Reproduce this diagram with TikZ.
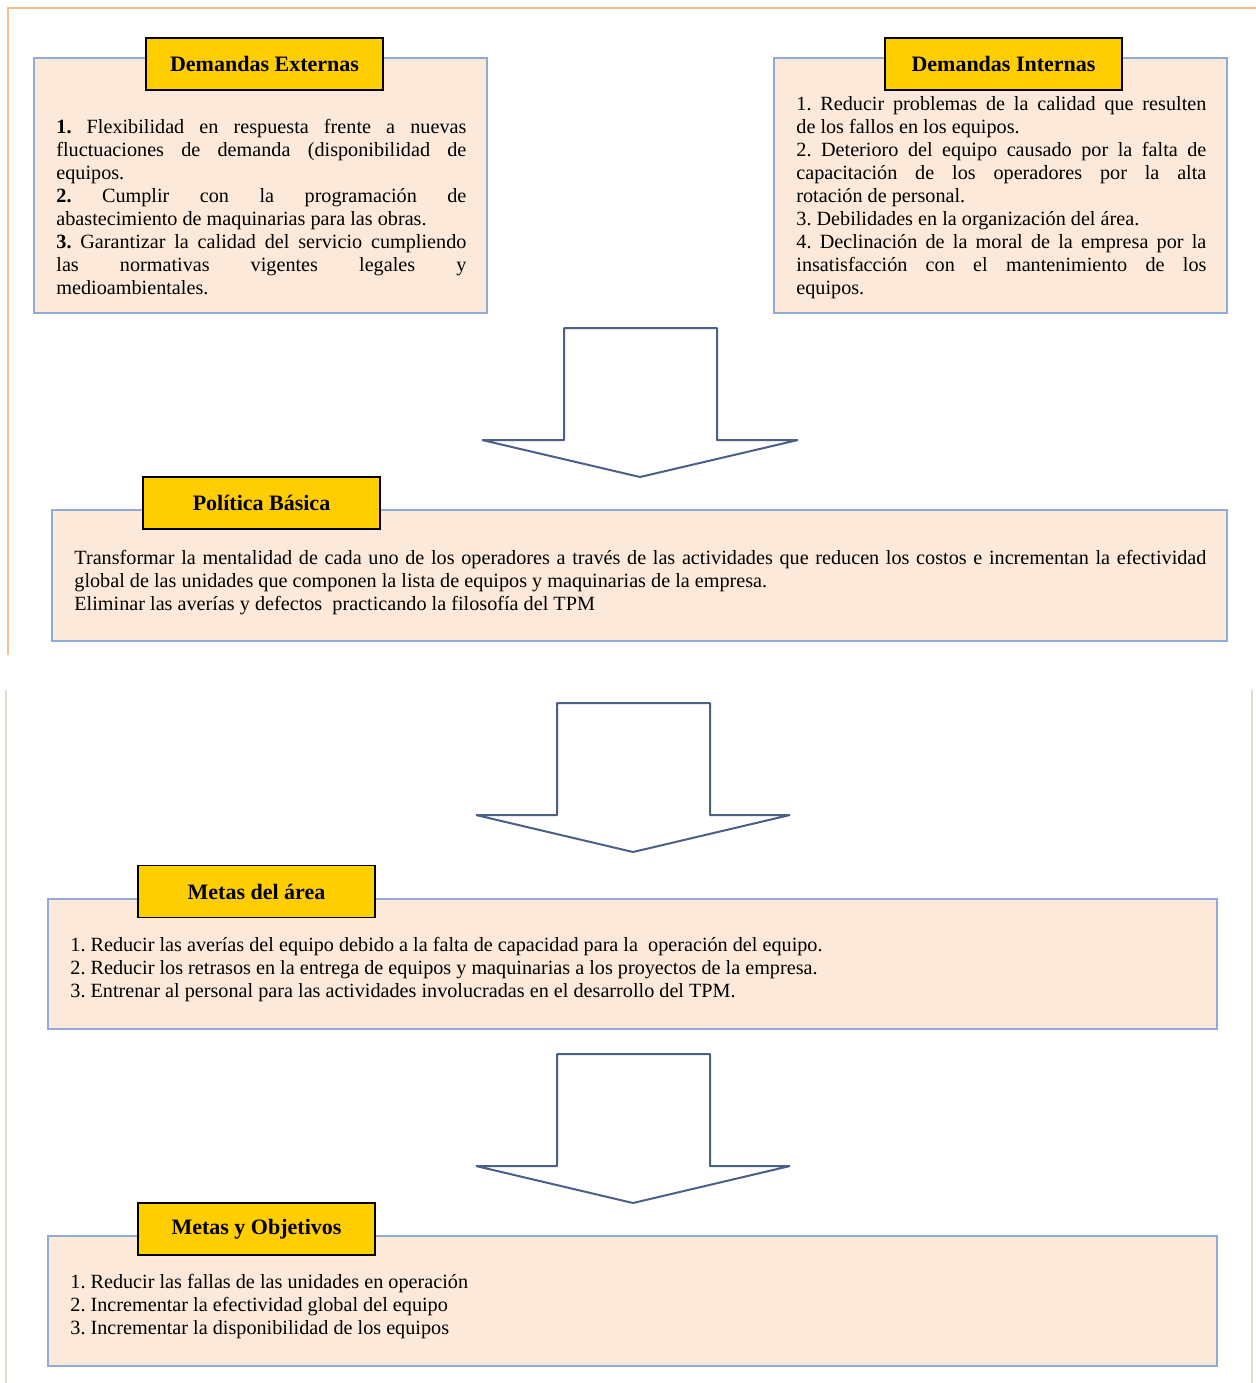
\documentclass[tikz,border=0pt]{standalone}
\usepackage{fontspec}
\setmainfont{Liberation Serif}
\usetikzlibrary{positioning}
\setlength{\parindent}{0pt}
\frenchspacing
\definecolor{peach}{RGB}{253,233,217}
\definecolor{boxblue}{RGB}{143,172,216}
\definecolor{titleyellow}{RGB}{255,206,0}
\definecolor{pageorange}{RGB}{250,190,140}
\definecolor{pagetan}{RGB}{228,218,205}
\definecolor{arrowblue}{RGB}{75,95,135}

\begin{document}
\begin{tikzpicture}[x=0.5pt,y=-0.5pt]

    \tikzset{panel/.style={draw=boxblue, fill=peach, line width=1pt, inner sep=0pt}}
    \tikzset{title/.style={draw=black, fill=titleyellow, line width=0.8pt, minimum width=118.5pt, minimum height=26pt, inner sep=0pt, font=\bfseries\fontsize{11}{13}\selectfont}}
    \tikzset{body/.style={anchor=north west, inner sep=0pt, font=\fontsize{10.1}{11.5}\selectfont}}
    \tikzset{bigarrow/.style={draw=arrowblue, fill=white, line width=1pt, line join=bevel}}

    \useasboundingbox (0,0) rectangle (1256,1383);

    % PAGE FRAMES
    \draw[pageorange, line width=1pt] (1256,8) -- (8,8) -- (8,655);
    \draw[pagetan, line width=0.8pt] (6,690) -- (6,1383);
    \draw[pagetan, line width=0.8pt] (1252,690) -- (1252,1383);

    % DEMANDS
    \node(exBox) at (260.5,185.5) [panel, minimum width=226.5pt, minimum height=127.5pt] {};
    \node(inBox) at (1000.5,185.5) [panel, minimum width=226.5pt, minimum height=127.5pt] {};
    \node(exTitle) at (264.5,64) [title] {Demandas Externas};
    \node(inTitle) at (1003.5,64) [title] {Demandas Internas};

    \node(exText) at (56,119) [body, text width=205pt, align=justify] {%
      \textbf{1.} Flexibilidad en respuesta frente a nuevas\linebreak
      fluctuaciones de demanda (disponibilidad de\linebreak
      equipos.\par
      \textbf{2.} Cumplir con la programación de\linebreak
      abastecimiento de maquinarias para las obras.\par
      \textbf{3.} Garantizar la calidad del servicio cumpliendo\linebreak
      las normativas vigentes legales y\linebreak
      medioambientales.};

    \node(inText) at (796,96) [body, text width=205pt, align=justify] {%
      1. Reducir problemas de la calidad que resulten\linebreak
      de los fallos en los equipos.\par
      2. Deterioro del equipo causado por la falta de\linebreak
      capacitación de los operadores por la alta\linebreak
      rotación de personal.\par
      3. Debilidades en la organización del área.\par
      4. Declinación de la moral de la empresa por la\linebreak
      insatisfacción con el mantenimiento de los\linebreak
      equipos.};

    % ARROW 1
    \draw[bigarrow] (564,328) -- (717,328) -- (717,440) -- (798,440) -- (640,477) -- (482,440) -- (564,440) -- cycle;

    % POLICY
    \node(polBox) at (639.5,575.5) [panel, minimum width=587.5pt, minimum height=65.5pt] {};
    \node(polTitle) at (261.5,503) [title] {Política Básica};
    \node(polText) at (74,550) [body, text width=566pt, align=justify] {%
      Transformar la mentalidad de cada uno de los operadores a través de las actividades que reducen los costos e incrementan la efectividad\linebreak
      global de las unidades que componen la lista de equipos y maquinarias de la empresa.\par
      Eliminar las averías y defectos\ \ practicando la filosofía del TPM};

    % ARROW 2
    \draw[bigarrow] (557,703) -- (710,703) -- (710,815) -- (790,815) -- (633,852) -- (476,815) -- (557,815) -- cycle;

    % AREA GOALS
    \node(areaBox) at (632.5,964) [panel, minimum width=584.5pt, minimum height=65pt] {};
    \node(areaTitle) at (256.5,891.5) [title] {Metas del área};
    \node(areaText) at (70,937) [body, align=left] {%
      1. Reducir las averías del equipo debido a la falta de capacidad para la\ \ operación del equipo.\\
      2. Reducir los retrasos en la entrega de equipos y maquinarias a los proyectos de la empresa.\\
      3. Entrenar al personal para las actividades involucradas en el desarrollo del TPM.};

    % ARROW 3
    \draw[bigarrow] (557,1054) -- (710,1054) -- (710,1166) -- (790,1166) -- (633,1203) -- (476,1166) -- (557,1166) -- cycle;

    % OBJECTIVES
    \node(objBox) at (632.5,1301) [panel, minimum width=584.5pt, minimum height=65pt] {};
    \node(objTitle) at (256.5,1229) [title] {Metas y Objetivos};
    \node(objText) at (70,1274) [body, align=left] {%
      1. Reducir las fallas de las unidades en operación\\
      2. Incrementar la efectividad global del equipo\\
      3. Incrementar la disponibilidad de los equipos};

\end{tikzpicture}
\end{document}
